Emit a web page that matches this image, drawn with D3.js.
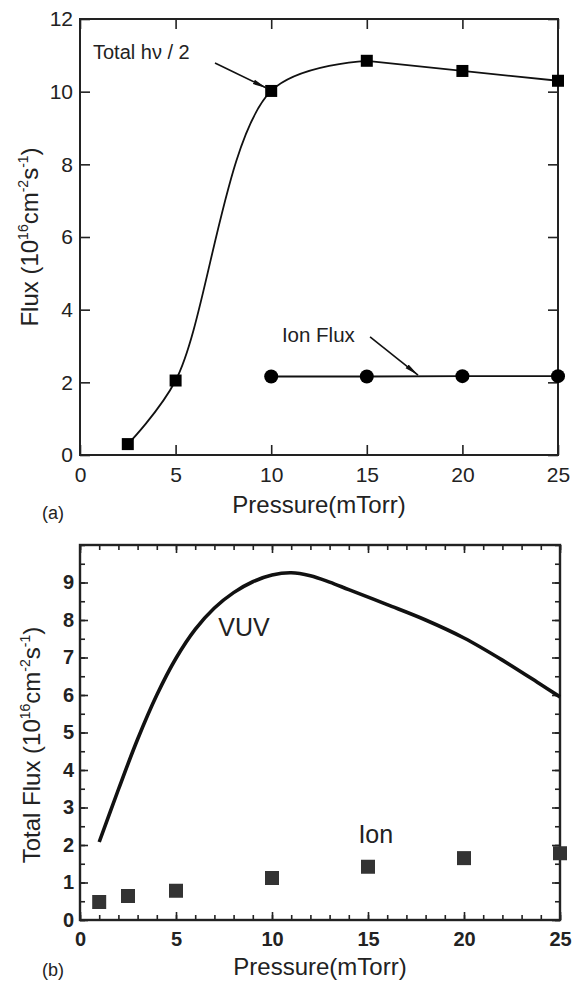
<!DOCTYPE html>
<meta charset="utf-8">
<script src="https://d3js.org/d3.v7.min.js"></script>
<style>
body { margin: 0; background: #fff; }
text { font-family: "Liberation Sans", Arial, sans-serif; fill: #222; }
</style>
<div id="chart"></div>
<script>
// panel (a): measured flux
var pressA = [2.5, 5, 10, 15, 20, 25];
var photonA = [0.3, 2.05, 10.02, 10.85, 10.57, 10.3];
var ionPressA = [10, 15, 20, 25];
var ionA = [2.16, 2.16, 2.17, 2.17];
var xTicksA = [0, 5, 10, 15, 20, 25];
var yTicksA = [0, 2, 4, 6, 8, 10, 12];

// panel (b): total flux
var pressVUV = [1, 2, 3, 4, 5, 6, 7, 8, 9, 10, 11, 12, 13, 14, 16, 18, 20, 22, 24, 25];
var vuv = [2.08, 3.48, 4.82, 6.0, 6.98, 7.75, 8.32, 8.73, 9.02, 9.2, 9.26, 9.18, 9.01, 8.81, 8.41, 8.0, 7.52, 6.93, 6.28, 5.95];
var ionPressB = [1, 2.5, 5, 10, 15, 20, 25];
var ionB = [0.48, 0.64, 0.78, 1.12, 1.42, 1.65, 1.78];
var xTicksB = [0, 5, 10, 15, 20, 25];
var yTicksB = [0, 1, 2, 3, 4, 5, 6, 7, 8, 9];

var svg = d3.select("#chart").append("svg")
    .attr("width", 573)
    .attr("height", 988);

svg.append("defs").append("marker")
    .attr("id", "arrow")
    .attr("viewBox", "0 0 14 6")
    .attr("refX", 14).attr("refY", 3)
    .attr("markerWidth", 14).attr("markerHeight", 6)
    .attr("markerUnits", "userSpaceOnUse")
    .attr("orient", "auto")
  .append("path")
    .attr("d", "M0,0.6 L14,3 L0,5.4 Z")
    .attr("fill", "#111");

// ---------- panel (a) ----------
var xA = d3.scaleLinear().domain([0, 25]).range([80, 558]);
var yA = d3.scaleLinear().domain([0, 12]).range([455, 19]);
var gA = svg.append("g");

gA.append("g").attr("transform", "translate(0,455)")
  .call(d3.axisBottom(xA).tickValues(xTicksA).tickSize(-10).tickPadding(12));
gA.append("g").attr("transform", "translate(0,19)")
  .call(d3.axisTop(xA).tickValues(xTicksA).tickSize(-10).tickFormat(""));
gA.append("g").attr("transform", "translate(80,0)")
  .call(d3.axisLeft(yA).tickValues(yTicksA).tickSize(-10).tickPadding(7));
gA.append("g").attr("transform", "translate(558,0)")
  .call(d3.axisRight(yA).tickValues(yTicksA).tickSize(-10).tickFormat(""));
gA.selectAll(".domain").remove();
gA.selectAll(".tick line").attr("stroke", "#222").attr("stroke-width", 1.6);
gA.selectAll(".tick text").attr("font-size", 21).attr("fill", "#222");
gA.append("rect").attr("x", 80).attr("y", 19).attr("width", 478).attr("height", 436)
  .attr("fill", "none").attr("stroke", "#222").attr("stroke-width", 2);

var photonPts = pressA.map(function (p, i) { return [xA(p), yA(photonA[i])]; });
// smooth rise up to 15 mTorr, straight segments after
gA.append("path")
  .attr("d", d3.line().curve(d3.curveCatmullRom.alpha(0.5))(photonPts.slice(0, 4)))
  .attr("fill", "none").attr("stroke", "#111").attr("stroke-width", 1.8);
gA.append("path")
  .attr("d", d3.line()(photonPts.slice(3)))
  .attr("fill", "none").attr("stroke", "#111").attr("stroke-width", 1.8);
gA.selectAll(".sq").data(photonPts).enter().append("rect")
  .attr("x", function (d) { return d[0] - 6; })
  .attr("y", function (d) { return d[1] - 6; })
  .attr("width", 12).attr("height", 12)
  .attr("fill", "#000");

var ionPts = ionPressA.map(function (p, i) { return [xA(p), yA(ionA[i])]; });
gA.append("path")
  .attr("d", d3.line()(ionPts))
  .attr("fill", "none").attr("stroke", "#111").attr("stroke-width", 1.8);
gA.selectAll(".dot").data(ionPts).enter().append("circle")
  .attr("cx", function (d) { return d[0]; })
  .attr("cy", function (d) { return d[1]; })
  .attr("r", 7).attr("fill", "#000");

// annotations
gA.append("text").attr("x", xA(0.68)).attr("y", yA(11.09)).attr("dy", "0.35em")
  .attr("font-size", 20).text("Total hν / 2");
gA.append("line")
  .attr("x1", xA(7.06)).attr("y1", yA(10.79)).attr("x2", xA(9.75)).attr("y2", yA(10.1))
  .attr("stroke", "#111").attr("stroke-width", 1.6).attr("marker-end", "url(#arrow)");
gA.append("text").attr("x", xA(10.56)).attr("y", yA(3.3)).attr("dy", "0.35em")
  .attr("font-size", 20.5).text("Ion Flux");
gA.append("line")
  .attr("x1", xA(15.17)).attr("y1", yA(3.25)).attr("x2", xA(17.68)).attr("y2", yA(2.2))
  .attr("stroke", "#111").attr("stroke-width", 1.6).attr("marker-end", "url(#arrow)");

gA.append("text").attr("x", 319).attr("y", 513).attr("text-anchor", "middle")
  .attr("font-size", 24).text("Pressure(mTorr)");
gA.append("text").attr("x", 42).attr("y", 519).attr("font-size", 18).attr("fill", "#444")
  .text("(a)");

var labA = gA.append("text")
  .attr("transform", "translate(38,237) rotate(-90)")
  .attr("text-anchor", "middle").attr("font-size", 24);
labA.append("tspan").text("Flux (10");
labA.append("tspan").attr("font-size", 14).attr("dy", -10).text("16");
labA.append("tspan").attr("dy", 10).text("cm");
labA.append("tspan").attr("font-size", 14).attr("dy", -10).text("-2");
labA.append("tspan").attr("dy", 10).text("s");
labA.append("tspan").attr("font-size", 14).attr("dy", -10).text("-1");
labA.append("tspan").attr("dy", 10).text(")");

// ---------- panel (b) ----------
var xB = d3.scaleLinear().domain([0, 25]).range([80, 560]);
var yB = d3.scaleLinear().domain([0, 10]).range([920, 545]);
var gB = svg.append("g");

var minorX = d3.range(0, 26, 1);
var minorY = d3.range(0, 10.01, 0.5);
gB.append("g").attr("transform", "translate(0,920)")
  .call(d3.axisBottom(xB).tickValues(minorX).tickSize(-5).tickFormat(""));
gB.append("g").attr("transform", "translate(0,545)")
  .call(d3.axisTop(xB).tickValues(minorX).tickSize(-5).tickFormat(""));
gB.append("g").attr("transform", "translate(80,0)")
  .call(d3.axisLeft(yB).tickValues(minorY).tickSize(-5).tickFormat(""));
gB.append("g").attr("transform", "translate(560,0)")
  .call(d3.axisRight(yB).tickValues(minorY).tickSize(-5).tickFormat(""));
gB.append("g").attr("transform", "translate(0,920)")
  .call(d3.axisBottom(xB).tickValues(xTicksB).tickSize(-8).tickPadding(12));
gB.append("g").attr("transform", "translate(0,545)")
  .call(d3.axisTop(xB).tickValues(xTicksB).tickSize(-8).tickFormat(""));
gB.append("g").attr("transform", "translate(80,0)")
  .call(d3.axisLeft(yB).tickValues(yTicksB).tickSize(-8).tickPadding(6));
gB.append("g").attr("transform", "translate(560,0)")
  .call(d3.axisRight(yB).tickValues(yTicksB).tickSize(-8).tickFormat(""));
gB.selectAll(".domain").remove();
gB.selectAll(".tick line").attr("stroke", "#222").attr("stroke-width", 1.6);
gB.selectAll(".tick text").attr("font-size", 20).attr("font-weight", "bold").attr("fill", "#222");
gB.append("rect").attr("x", 80).attr("y", 545).attr("width", 480).attr("height", 375)
  .attr("fill", "none").attr("stroke", "#222").attr("stroke-width", 2.4);

var vuvLine = d3.line()
  .x(function (d, i) { return xB(pressVUV[i]); })
  .y(function (d) { return yB(d); })
  .curve(d3.curveCatmullRom.alpha(0.5));
gB.append("path").attr("d", vuvLine(vuv))
  .attr("fill", "none").attr("stroke", "#111").attr("stroke-width", 3.6);

gB.selectAll(".sqb").data(ionB).enter().append("rect")
  .attr("x", function (d, i) { return xB(ionPressB[i]) - 7; })
  .attr("y", function (d) { return yB(d) - 7; })
  .attr("width", 14).attr("height", 14)
  .attr("fill", "#333");

gB.append("text").attr("x", xB(7.2)).attr("y", yB(7.8)).attr("dy", "0.35em")
  .attr("font-size", 25).attr("fill", "#333").text("VUV");
gB.append("text").attr("x", xB(14.5)).attr("y", yB(2.3)).attr("dy", "0.35em")
  .attr("font-size", 25).attr("fill", "#444").text("Ion");

gB.append("text").attr("x", 320).attr("y", 975).attr("text-anchor", "middle")
  .attr("font-size", 24).text("Pressure(mTorr)");
gB.append("text").attr("x", 42).attr("y", 976).attr("font-size", 18).attr("fill", "#444")
  .text("(b)");

var labB = gB.append("text")
  .attr("transform", "translate(40,745) rotate(-90)")
  .attr("text-anchor", "middle").attr("font-size", 24);
labB.append("tspan").text("Total Flux (10");
labB.append("tspan").attr("font-size", 14).attr("dy", -10).text("16");
labB.append("tspan").attr("dy", 10).text("cm");
labB.append("tspan").attr("font-size", 14).attr("dy", -10).text("-2");
labB.append("tspan").attr("dy", 10).text("s");
labB.append("tspan").attr("font-size", 14).attr("dy", -10).text("-1");
labB.append("tspan").attr("dy", 10).text(")");
</script>
